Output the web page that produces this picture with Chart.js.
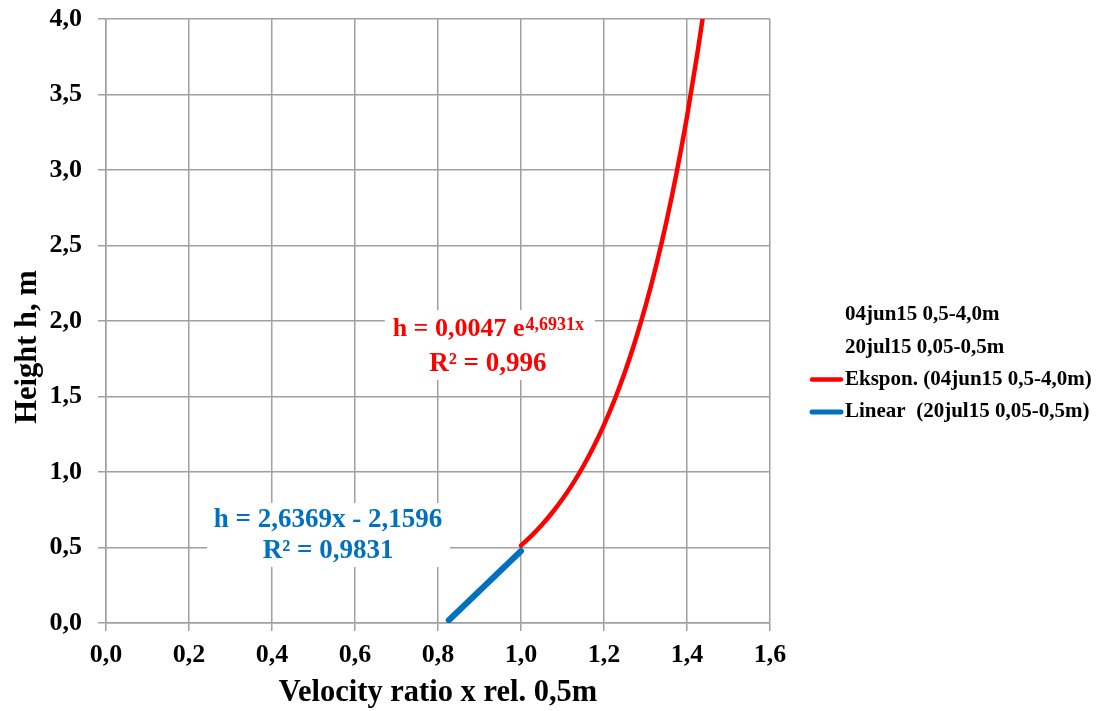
<!DOCTYPE html>
<html>
<head>
<meta charset="utf-8">
<script src="https://cdn.jsdelivr.net/npm/chart.js@4.4.1/dist/chart.umd.min.js"></script>
<style>
  html, body { margin: 0; padding: 0; background: #ffffff; }
  #wrap { width: 1101px; height: 711px; }
</style>
</head>
<body>
<div id="wrap"><canvas id="c" width="1101" height="711"></canvas></div>
<script>
// Exponential trend, 04jun15 (0,5-4,0 m): velocity ratio x and height h
const expX = [1.000, 1.025, 1.050, 1.075, 1.100, 1.125, 1.150, 1.175, 1.200, 1.225,
              1.250, 1.275, 1.300, 1.325, 1.350, 1.375, 1.400, 1.425, 1.4375];
const expH = [0.513, 0.577, 0.649, 0.730, 0.821, 0.923, 1.038, 1.167, 1.312, 1.475,
              1.659, 1.866, 2.098, 2.359, 2.653, 2.983, 3.354, 3.772, 4.000];

// Linear trend, 20jul15 (0,05-0,5 m)
const linX = [0.826, 1.000];
const linH = [0.018, 0.477];

// Axis ticks
const xTicks = [0.0, 0.2, 0.4, 0.6, 0.8, 1.0, 1.2, 1.4, 1.6];
const yTicks = [0.0, 0.5, 1.0, 1.5, 2.0, 2.5, 3.0, 3.5, 4.0];

// Legend / series names
const seriesNames = ['04jun15 0,5-4,0m', '20jul15 0,05-0,5m'];
const trendNames = ['Ekspon. (04jun15 0,5-4,0m)', 'Linear  (20jul15 0,05-0,5m)'];

// Trend equations
const expEquation = { main: 'h = 0,0047 e', sup: '4,6931x', r2: 'R² = 0,996' };
const linEquation = { main: 'h = 2,6369x - 2,1596', r2: 'R² = 0,9831' };

const RED = '#ff0000';
const BLUE = '#0070c0';
const GRID = '#a0a0a0';
const SERIF = "'Liberation Serif', 'Times New Roman', serif";

const comma = v => Number(v).toFixed(1).replace('.', ',');
const pts = (xs, ys) => xs.map((v, i) => ({ x: v, y: ys[i] }));

// white page background
const background = {
  id: 'background',
  beforeDraw(chart) {
    const { ctx, width, height } = chart;
    ctx.save();
    ctx.fillStyle = '#ffffff';
    ctx.fillRect(0, 0, width, height);
    ctx.restore();
  }
};

// trendline equation boxes
const equations = {
  id: 'equations',
  beforeDatasetsDraw(chart) {
    const { ctx, scales: { x, y } } = chart;
    ctx.save();
    ctx.textAlign = 'left';
    ctx.textBaseline = 'alphabetic';

    // exponential
    let cx = x.getPixelForValue(0.92);
    let b1 = y.getPixelForValue(1.9);
    ctx.fillStyle = '#ffffff';
    ctx.fillRect(cx - 103, b1 - 26, 210, 70);
    ctx.fillStyle = RED;
    ctx.font = 'bold 26px ' + SERIF;
    const wMain = ctx.measureText(expEquation.main).width;
    ctx.font = 'bold 18px ' + SERIF;
    const wSup = ctx.measureText(expEquation.sup).width;
    let sx = cx - (wMain + wSup) / 2;
    ctx.font = 'bold 26px ' + SERIF;
    ctx.fillText(expEquation.main, sx, b1);
    ctx.font = 'bold 18px ' + SERIF;
    ctx.fillText(expEquation.sup, sx + wMain + 1, b1 - 6);
    ctx.font = 'bold 27px ' + SERIF;
    ctx.textAlign = 'center';
    ctx.fillText(expEquation.r2, cx, b1 + 35);

    // linear
    cx = x.getPixelForValue(0.535);
    b1 = y.getPixelForValue(0.636);
    ctx.fillStyle = '#ffffff';
    ctx.fillRect(cx - 121, b1 - 24, 243, 64);
    ctx.fillStyle = BLUE;
    ctx.font = 'bold 27px ' + SERIF;
    ctx.fillText(linEquation.main, cx, b1);
    ctx.fillText(linEquation.r2, cx, b1 + 31);
    ctx.restore();
  }
};

// vertical axis title and legend on the right
const decorations = {
  id: 'decorations',
  afterDraw(chart) {
    const { ctx } = chart;
    ctx.save();
    ctx.fillStyle = '#000000';
    ctx.font = 'bold 30.5px ' + SERIF;
    ctx.textAlign = 'center';
    ctx.textBaseline = 'middle';
    ctx.translate(28, 347);
    ctx.rotate(-Math.PI / 2);
    ctx.fillText('Height h, m', 0, 0);
    ctx.restore();

    ctx.save();
    ctx.font = 'bold 21px ' + SERIF;
    ctx.textAlign = 'left';
    ctx.textBaseline = 'middle';
    chart.data.datasets.forEach((ds, i) => {
      const cy = 315 + i * 32.3;
      if (ds.data.length && ds.borderWidth > 0) {
        ctx.strokeStyle = ds.borderColor;
        ctx.lineWidth = ds.legendWidth;
        ctx.lineCap = 'round';
        ctx.beginPath();
        ctx.moveTo(812, cy);
        ctx.lineTo(841, cy);
        ctx.stroke();
      }
      ctx.fillStyle = '#000000';
      ctx.fillText(ds.label, 845, cy);
    });
    ctx.restore();
  }
};

new Chart(document.getElementById('c'), {
  type: 'scatter',
  data: {
    datasets: [
      { label: seriesNames[0], data: [], showLine: false, pointRadius: 0, borderWidth: 0 },
      { label: seriesNames[1], data: [], showLine: false, pointRadius: 0, borderWidth: 0 },
      {
        label: trendNames[0], data: pts(expX, expH), showLine: true,
        borderColor: RED, backgroundColor: RED, borderWidth: 4.5, legendWidth: 4.5,
        pointRadius: 0, cubicInterpolationMode: 'monotone', borderCapStyle: 'round'
      },
      {
        label: trendNames[1], data: pts(linX, linH), showLine: true,
        borderColor: BLUE, backgroundColor: BLUE, borderWidth: 6, legendWidth: 5,
        pointRadius: 0, borderCapStyle: 'round'
      }
    ]
  },
  options: {
    responsive: false,
    devicePixelRatio: 1,
    animation: false,
    layout: { padding: { left: 0, right: 331, top: 19, bottom: 0 } },
    plugins: { legend: { display: false }, tooltip: { enabled: false } },
    scales: {
      x: {
        type: 'linear', min: 0, max: 1.6,
        afterBuildTicks: s => { s.ticks = xTicks.map(v => ({ value: v })); },
        afterFit: s => { s.height = 88; s.paddingLeft = 0; s.paddingRight = 0; },
        grid: { color: GRID, lineWidth: 1.5, tickLength: 8, tickColor: GRID, drawTicks: true },
        border: { display: true, color: GRID, width: 1.5 },
        ticks: {
          color: '#000', padding: 9, maxRotation: 0, autoSkip: false,
          font: { family: SERIF, size: 26, weight: 'bold' },
          callback: v => comma(v)
        },
        title: {
          display: true, text: 'Velocity ratio x rel. 0,5m', color: '#000',
          font: { family: SERIF, size: 30.5, weight: 'bold', lineHeight: 1.2 },
          padding: { top: 0, bottom: 0 }
        }
      },
      y: {
        type: 'linear', min: 0, max: 4,
        afterBuildTicks: s => { s.ticks = yTicks.map(v => ({ value: v })); },
        afterFit: s => { s.width = 106; s.paddingTop = 0; s.paddingBottom = 0; },
        grid: { color: GRID, lineWidth: 1.5, tickLength: 8, tickColor: GRID, drawTicks: true },
        border: { display: true, color: GRID, width: 1.5 },
        ticks: {
          color: '#000', padding: 16, autoSkip: false,
          font: { family: SERIF, size: 26, weight: 'bold' },
          callback: v => comma(v)
        }
      }
    }
  },
  plugins: [background, equations, decorations]
});
</script>
</body>
</html>
